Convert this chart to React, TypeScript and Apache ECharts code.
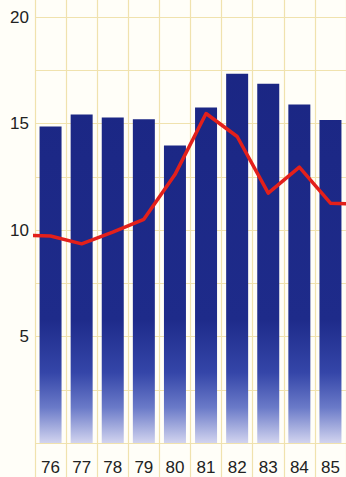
import React, { useEffect, useRef } from "react";
import * as echarts from "echarts";

const years = ["76", "77", "78", "79", "80", "81", "82", "83", "84", "85"];
const barValues = [14.86, 15.42, 15.28, 15.2, 13.97, 15.75, 17.34, 16.87, 15.89, 15.16];
const lineYears = [75, 76, 77, 78, 79, 80, 81, 82, 83, 84, 85, 86];
const lineValues = [9.75, 9.72, 9.35, 9.9, 10.5, 12.6, 15.47, 14.39, 11.73, 12.95, 11.26, 11.2];
const yTickLabels = [5, 10, 15, 20];

const GRID_COLOR = "#f0e2ae";
const BG = "#fffef8";

export default function App() {
  const ref = useRef<HTMLDivElement>(null);
  useEffect(() => {
    if (!ref.current) return;
    const chart = echarts.init(ref.current, undefined, { renderer: "svg" });
    const font = "'Liberation Sans', Arial, sans-serif";
    const strip = (gridIndex: number) => ({
      type: "category",
      gridIndex,
      data: years,
      axisLine: { show: false },
      axisTick: { show: false },
      axisLabel: { show: false },
      splitLine: { show: true, lineStyle: { color: GRID_COLOR, width: 1.2 } },
    });
    chart.setOption({
      animation: false,
      backgroundColor: BG,
      grid: [
        { left: 35, right: -7, top: 17, bottom: 34 },
        { left: 35, right: -7, top: 443, bottom: 0 },
        { left: 35, right: -7, top: 0, height: 17 },
      ],
      xAxis: [
        {
          type: "category",
          gridIndex: 0,
          data: years,
          axisLine: { show: false },
          axisTick: { show: false },
          axisLabel: { margin: 16, fontSize: 17, color: "#222", fontFamily: font },
          splitLine: { show: true, lineStyle: { color: GRID_COLOR, width: 1.2 } },
        },
        strip(1),
        {
          type: "value",
          gridIndex: 0,
          min: 75.5,
          max: 85.5,
          show: false,
        },
        strip(2),
      ],
      yAxis: [
        {
          type: "value",
          gridIndex: 0,
          min: 0,
          max: 20,
          interval: 2.5,
          axisLine: { show: false },
          axisTick: { show: false },
          axisLabel: {
            margin: 6,
            fontSize: 17,
            color: "#222",
            fontFamily: font,
            formatter: (v: number) => (yTickLabels.includes(v) ? String(v) : ""),
          },
          splitLine: { show: true, lineStyle: { color: GRID_COLOR, width: 1.2 } },
        },
        { type: "value", gridIndex: 1, show: false },
        { type: "value", gridIndex: 2, show: false },
      ],
      series: [
        {
          type: "bar",
          xAxisIndex: 0,
          yAxisIndex: 0,
          data: barValues,
          barWidth: 22,
          itemStyle: {
            color: new echarts.graphic.LinearGradient(
              0,
              0,
              0,
              443,
              [
                { offset: 0, color: "#1a2582" },
                { offset: 0.72, color: "#1e2b8a" },
                { offset: 0.84, color: "#3445a8" },
                { offset: 0.92, color: "#6a7ac8" },
                { offset: 1, color: "#d2d4ef" },
              ],
              true
            ),
          },
        },
        {
          type: "line",
          xAxisIndex: 2,
          yAxisIndex: 0,
          data: lineYears.map((y, i) => [y, lineValues[i]]),
          symbol: "none",
          clip: true,
          lineStyle: { color: "#e3201b", width: 3.5, join: "round" },
        },
      ],
    });
    return () => chart.dispose();
  }, []);
  return (
    <div
      ref={ref}
      style={{ position: "fixed", left: 0, top: 0, width: 346, height: 477, background: BG }}
    />
  );
}
